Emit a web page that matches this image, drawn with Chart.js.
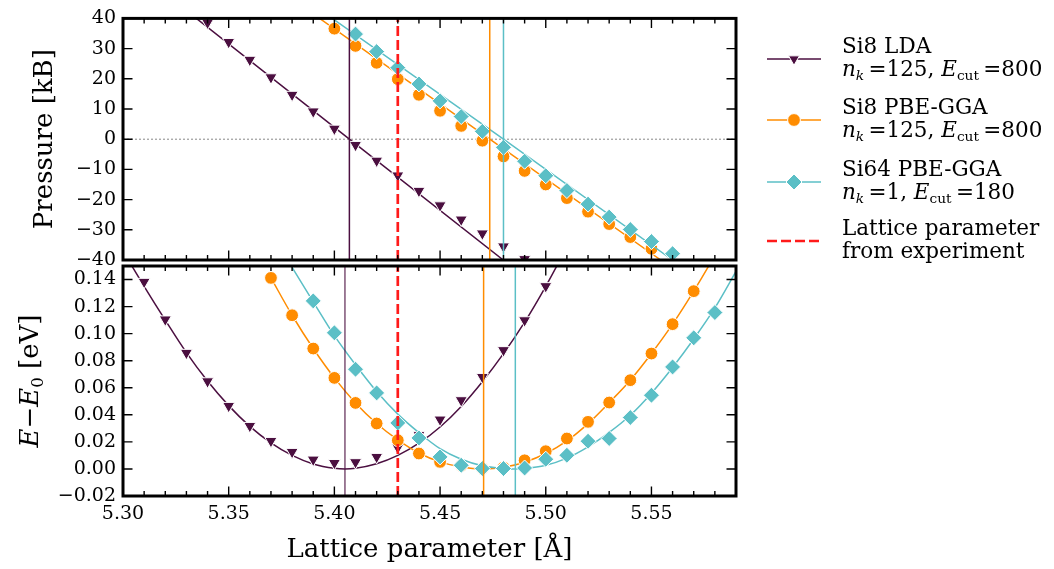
<!DOCTYPE html>
<html>
<head>
<meta charset="utf-8">
<script src="https://cdn.jsdelivr.net/npm/chart.js@4.4.1/dist/chart.umd.min.js"></script>
<style>
  html, body { margin: 0; padding: 0; background: #fff; }
  #wrap { position: relative; width: 1054px; height: 569px; background: #fff; }
  #wrap canvas { position: absolute; left: 0; top: 0; }
</style>
</head>
<body>
<div id="wrap">
  <canvas id="pressure" width="1054" height="569"></canvas>
  <canvas id="energy" width="1054" height="569"></canvas>
</div>
<script>
// ---- axes ----
const latticeMin = 5.30;
const latticeMax = 5.59;
const latticeTicks = [5.30, 5.35, 5.40, 5.45, 5.50, 5.55];
const pressureTicks = [-40, -30, -20, -10, 0, 10, 20, 30, 40];
const energyTicks = [-0.02, 0.00, 0.02, 0.04, 0.06, 0.08, 0.10, 0.12, 0.14];

// ---- legend text ----
const seriesNames = ['Si8 LDA', 'Si8 PBE-GGA', 'Si64 PBE-GGA'];
const kPoints = [125, 125, 1];
const cutoffs = [800, 800, 180];
const experimentLabel = ['Lattice parameter', 'from experiment'];

// ---- pressure [kB] vs lattice parameter ----
const latLdaP = [5.34, 5.35, 5.36, 5.37, 5.38, 5.39, 5.40, 5.41, 5.42, 5.43, 5.44, 5.45, 5.46, 5.47, 5.48, 5.49];
const pLda = [38.6, 32.2, 26.3, 20.5, 14.7, 9.2, 3.5, -1.9, -7.1, -12.0, -17.1, -21.9, -26.6, -31.2, -35.5, -39.7];
const latPbeP = [5.40, 5.41, 5.42, 5.43, 5.44, 5.45, 5.46, 5.47, 5.48, 5.49, 5.50, 5.51, 5.52, 5.53, 5.54, 5.55];
const pPbe = [36.6, 30.9, 25.3, 19.9, 14.7, 9.4, 4.4, -0.5, -5.7, -10.5, -15.0, -19.5, -24.0, -28.1, -32.4, -36.3];
const latSi64P = [5.41, 5.42, 5.43, 5.44, 5.45, 5.46, 5.47, 5.48, 5.49, 5.50, 5.51, 5.52, 5.53, 5.54, 5.55, 5.56];
const pSi64 = [34.8, 29.0, 23.7, 18.3, 12.7, 7.5, 2.6, -2.7, -7.3, -12.1, -17.0, -21.5, -25.8, -29.9, -33.9, -37.9];

// fitted P(a) curves
const latFitLdaP = [5.3347, 5.4071, 5.4799];
const pFitLda = [40, 0, -40];
const latFitPbeP = [5.3930, 5.4735, 5.5544];
const pFitPbe = [40, 0, -40];
const latFitSi64P = [5.3990, 5.4800, 5.5600];
const pFitSi64 = [40, 0, -40];

// ---- energy E - E0 [eV] vs lattice parameter ----
const latLdaE = [5.31, 5.32, 5.33, 5.34, 5.35, 5.36, 5.37, 5.38, 5.39, 5.40, 5.41, 5.42, 5.43, 5.44, 5.45, 5.46, 5.47, 5.48, 5.49, 5.50];
const eLda = [0.1383, 0.1105, 0.0858, 0.0648, 0.0466, 0.0318, 0.0207, 0.0126, 0.0069, 0.0044, 0.0050, 0.0089, 0.0158, 0.0250, 0.0365, 0.0508, 0.0680, 0.0878, 0.1099, 0.1351];
const latPbeE = [5.37, 5.38, 5.39, 5.40, 5.41, 5.42, 5.43, 5.44, 5.45, 5.46, 5.47, 5.48, 5.49, 5.50, 5.51, 5.52, 5.53, 5.54, 5.55, 5.56, 5.57];
const ePbe = [0.1412, 0.1136, 0.0890, 0.0673, 0.0488, 0.0336, 0.0212, 0.0114, 0.0052, 0.0025, 0.0003, 0.0010, 0.0064, 0.0131, 0.0225, 0.0348, 0.0491, 0.0656, 0.0853, 0.1070, 0.1314];
const latSi64E = [5.39, 5.40, 5.41, 5.42, 5.43, 5.44, 5.45, 5.46, 5.47, 5.48, 5.49, 5.50, 5.51, 5.52, 5.53, 5.54, 5.55, 5.56, 5.57, 5.58];
const eSi64 = [0.1242, 0.1006, 0.0737, 0.0562, 0.0340, 0.0229, 0.0089, 0.0027, 0.0003, 0.0003, 0.0007, 0.0072, 0.0101, 0.0205, 0.0225, 0.0380, 0.0545, 0.0754, 0.0969, 0.1156];

// fitted E(a) curves
const latFitLdaE = [5.30, 5.31, 5.32, 5.33, 5.34, 5.35, 5.36, 5.37, 5.38, 5.39, 5.40, 5.405, 5.41, 5.42, 5.43, 5.44, 5.45, 5.46, 5.47, 5.48, 5.49, 5.50, 5.51];
const eFitLda = [0.161, 0.135, 0.110, 0.0860, 0.0650, 0.0468, 0.0315, 0.0193, 0.0100, 0.0037, 0.0005, 0.0, 0.0005, 0.0038, 0.0100, 0.0190, 0.0310, 0.0462, 0.0645, 0.0852, 0.1085, 0.1350, 0.164];
const latFitPbeE = [5.37, 5.38, 5.39, 5.40, 5.41, 5.42, 5.43, 5.44, 5.45, 5.46, 5.4706, 5.48, 5.49, 5.50, 5.51, 5.52, 5.53, 5.54, 5.55, 5.56, 5.57, 5.58, 5.59];
const eFitPbe = [0.1412, 0.1136, 0.0890, 0.0673, 0.0488, 0.0336, 0.0215, 0.0118, 0.0052, 0.0014, 0.0, 0.0012, 0.0050, 0.0114, 0.0207, 0.0335, 0.0490, 0.0656, 0.0853, 0.1070, 0.1314, 0.1580, 0.1870];
const latFitSi64E = [5.38, 5.39, 5.40, 5.41, 5.42, 5.43, 5.44, 5.45, 5.46, 5.47, 5.48, 5.4856, 5.49, 5.50, 5.51, 5.52, 5.53, 5.54, 5.55, 5.56, 5.57, 5.58, 5.59];
const eFitSi64 = [0.1490, 0.1235, 0.0985, 0.0770, 0.0572, 0.0405, 0.0268, 0.0150, 0.0072, 0.0024, 0.0004, 0.0, 0.0003, 0.0027, 0.0080, 0.0163, 0.0270, 0.0397, 0.0560, 0.0750, 0.0960, 0.1190, 0.1460];

// equilibrium lattice parameters: P = 0 and E minimum, plus experiment
const aZeroPressure = [5.4071, 5.4735, 5.4800];
const aMinEnergy = [5.4050, 5.4706, 5.4856];
const aExperiment = 5.430;

// ---- styling ----
const FONT = '"DejaVu Serif", serif';
const colors = ['#4b0f40', '#ff8c00', '#5bbfc6'];
const energyLineColors = ['rgba(75,15,64,0.72)', '#ff8c00', '#5bbfc6'];
const markerStyles = [
  { pointStyle: 'triangle', rotation: 180, radius: 7 },
  { pointStyle: 'circle', rotation: 0, radius: 6.4 },
  { pointStyle: 'rectRot', rotation: 0, radius: 8 }
];
const legendRadius = [6.3, 6.4, 8];
const RED = '#ff1a1a';
const DASH = [10, 4];

Chart.defaults.font.family = FONT;
Chart.defaults.color = '#000';
Chart.defaults.animation = false;

const latticeMinorTicks = [];
for (let i = 0; Math.round((latticeMin + i * 0.01) * 100) <= Math.round(latticeMax * 100); i++) {
  latticeMinorTicks.push(Math.round((latticeMin + i * 0.01) * 100) / 100);
}
const isMajor = v => latticeTicks.some(t => Math.abs(t - v) < 1e-6);
const minus = s => s.replace('-', '\u2212');

function pts(xs, ys) { return xs.map((x, i) => ({ x, y: ys[i] })); }

function fitSet(xs, ys, color, order, smooth) {
  return {
    data: pts(xs, ys), showLine: true, borderColor: color, borderWidth: 1.5,
    pointRadius: 0, pointHoverRadius: 0, order,
    tension: 0, cubicInterpolationMode: smooth ? 'monotone' : 'default'
  };
}
function markerSet(xs, ys, i, order) {
  const m = markerStyles[i];
  return {
    data: pts(xs, ys), showLine: false, order,
    pointStyle: m.pointStyle, pointRotation: m.rotation, pointRadius: m.radius,
    pointBackgroundColor: colors[i], pointBorderColor: '#ffffff', pointBorderWidth: 1,
    pointHoverRadius: m.radius
  };
}
function vlineSet(x, yMin, yMax, color, order, width, dash) {
  return {
    data: [{ x, y: yMin }, { x, y: yMax }], showLine: true, borderColor: color,
    borderWidth: width, borderDash: dash || [], pointRadius: 0, order
  };
}
function hlineSet(y, color, order, width, dash) {
  return {
    data: [{ x: latticeMin, y }, { x: latticeMax, y }], showLine: true, borderColor: color,
    borderWidth: width, borderDash: dash || [], pointRadius: 0, order
  };
}

// frame with inward ticks on all four sides
const frameTicks = {
  id: 'frameTicks',
  afterDatasetsDraw(chart, args, opts) {
    const { ctx, chartArea: a, scales } = chart;
    ctx.save();
    ctx.strokeStyle = '#000';
    ctx.lineWidth = 1.4;
    ctx.beginPath();
    for (const v of latticeMinorTicks) {
      const px = scales.x.getPixelForValue(v);
      const len = isMajor(v) ? 9.5 : 5;
      ctx.moveTo(px, a.top); ctx.lineTo(px, a.top + len);
      ctx.moveTo(px, a.bottom); ctx.lineTo(px, a.bottom - len);
    }
    for (const v of opts.yTicks) {
      const py = scales.y.getPixelForValue(v);
      ctx.moveTo(a.left, py); ctx.lineTo(a.left + 9.5, py);
      ctx.moveTo(a.right, py); ctx.lineTo(a.right - 9.5, py);
    }
    ctx.stroke();
    ctx.lineWidth = 3;
    ctx.strokeRect(a.left, a.top, a.right - a.left, a.bottom - a.top);
    ctx.restore();
  }
};

// text with italic / subscript runs
const SUB = 0.64;
function setRunFont(ctx, s, size) {
  const fs = s.sub ? size * SUB : size;
  ctx.font = (s.it ? 'italic ' : '') + fs + 'px ' + FONT;
}
function drawRich(ctx, segs, x, y, size) {
  let cx = x;
  for (const s of segs) {
    setRunFont(ctx, s, size);
    ctx.fillText(s.t, cx, y + (s.sub ? size * 0.22 : 0));
    cx += ctx.measureText(s.t).width;
  }
  return cx - x;
}
function richWidth(ctx, segs, size) {
  let w = 0;
  for (const s of segs) {
    setRunFont(ctx, s, size);
    w += ctx.measureText(s.t).width;
  }
  return w;
}

const legendPlugin = {
  id: 'sideLegend',
  afterDraw(chart) {
    const ctx = chart.ctx;
    const size = 21.5;
    const lineYs = [59, 120, 182, 241];
    const x0 = 767, x1 = 821, tx = 842;
    const thin = '\u2009';
    ctx.save();
    ctx.textBaseline = 'alphabetic';
    ctx.textAlign = 'left';
    ctx.fillStyle = '#000';
    for (let i = 0; i < 4; i++) {
      const y = lineYs[i];
      ctx.save();
      ctx.beginPath();
      ctx.strokeStyle = i < 3 ? colors[i] : RED;
      ctx.lineWidth = i < 3 ? 1.5 : 2.7;
      ctx.setLineDash(i < 3 ? [] : DASH);
      ctx.moveTo(x0, y); ctx.lineTo(x1, y);
      ctx.stroke();
      ctx.restore();
      if (i < 3) {
        const m = markerStyles[i];
        ctx.save();
        ctx.fillStyle = colors[i];
        ctx.strokeStyle = '#ffffff';
        ctx.lineWidth = 1;
        Chart.helpers.drawPoint(ctx, { pointStyle: m.pointStyle, radius: legendRadius[i], rotation: m.rotation, borderWidth: 1 }, (x0 + x1) / 2, y);
        ctx.restore();
        ctx.fillStyle = '#000';
        drawRich(ctx, [{ t: seriesNames[i] }], tx, y - 6.3, size);
        drawRich(ctx, [
          { t: 'n', it: true }, { t: 'k', it: true, sub: true }, { t: thin + '=' + kPoints[i] + ', ' },
          { t: 'E', it: true }, { t: 'cut', sub: true }, { t: thin + '=' + cutoffs[i] }
        ], tx, y + 16.6, size);
      } else {
        drawRich(ctx, [{ t: experimentLabel[0] }], tx, y - 5.8, size);
        drawRich(ctx, [{ t: experimentLabel[1] }], tx, y + 17.2, size);
      }
    }
    ctx.restore();
  }
};

const energyTitle = {
  id: 'energyTitle',
  afterDraw(chart) {
    const { ctx, chartArea: a } = chart;
    const size = 26;
    const segs = [{ t: 'E', it: true }, { t: '\u2212' }, { t: 'E', it: true }, { t: '0', sub: true }, { t: ' [eV]' }];
    ctx.save();
    ctx.fillStyle = '#000';
    ctx.textBaseline = 'alphabetic';
    ctx.textAlign = 'left';
    const w = richWidth(ctx, segs, size);
    ctx.translate(28, (a.top + a.bottom) / 2);
    ctx.rotate(-Math.PI / 2);
    drawRich(ctx, segs, -w / 2, 9.5, size);
    ctx.restore();
  }
};

const tickFont = { family: FONT, size: 19 };
const titleFont = { family: FONT, size: 26 };

// ---- pressure panel ----
new Chart(document.getElementById('pressure'), {
  type: 'scatter',
  data: {
    datasets: [
      hlineSet(0, '#888', 100, 1, [2, 2]),
      fitSet(latFitLdaP, pFitLda, colors[0], 90, false),
      markerSet(latLdaP, pLda, 0, 85),
      fitSet(latFitPbeP, pFitPbe, colors[1], 80, false),
      markerSet(latPbeP, pPbe, 1, 75),
      fitSet(latFitSi64P, pFitSi64, colors[2], 70, false),
      markerSet(latSi64P, pSi64, 2, 65),
      vlineSet(aZeroPressure[0], -40, 40, colors[0], 50, 1.5),
      vlineSet(aZeroPressure[1], -40, 40, colors[1], 50, 1.5),
      vlineSet(aZeroPressure[2], -40, 40, colors[2], 50, 1.5),
      vlineSet(aExperiment, -40, 40, RED, 40, 2.7, DASH)
    ]
  },
  options: {
    responsive: false,
    devicePixelRatio: 1,
    layout: { padding: { left: 0, top: 12, right: 318, bottom: 309 } },
    plugins: { legend: { display: false }, tooltip: { enabled: false }, frameTicks: { yTicks: pressureTicks } },
    events: [],
    scales: {
      x: { type: 'linear', min: latticeMin, max: latticeMax, display: false },
      y: {
        type: 'linear', min: -40, max: 40,
        grid: { display: false, drawTicks: false }, border: { display: false },
        afterFit(s) { s.width = 123; },
        afterBuildTicks(s) { s.ticks = pressureTicks.map(v => ({ value: v })); },
        ticks: { font: tickFont, padding: 7, autoSkip: false, callback: v => minus(String(v)) },
        title: { display: true, text: 'Pressure [kB]', font: titleFont, padding: { top: 30 } }
      }
    }
  },
  plugins: [frameTicks, legendPlugin]
});

// ---- energy panel ----
new Chart(document.getElementById('energy'), {
  type: 'scatter',
  data: {
    datasets: [
      fitSet(latFitLdaE, eFitLda, colors[0], 90, true),
      markerSet(latLdaE, eLda, 0, 85),
      fitSet(latFitPbeE, eFitPbe, colors[1], 80, true),
      markerSet(latPbeE, ePbe, 1, 75),
      fitSet(latFitSi64E, eFitSi64, colors[2], 70, true),
      markerSet(latSi64E, eSi64, 2, 65),
      vlineSet(aMinEnergy[0], -0.02, 0.15, energyLineColors[0], 50, 1.5),
      vlineSet(aMinEnergy[1], -0.02, 0.15, energyLineColors[1], 50, 1.5),
      vlineSet(aMinEnergy[2], -0.02, 0.15, energyLineColors[2], 50, 1.5),
      vlineSet(aExperiment, -0.02, 0.15, RED, 40, 2.7, DASH)
    ]
  },
  options: {
    responsive: false,
    devicePixelRatio: 1,
    layout: { padding: { left: 0, top: 266, right: 318, bottom: 0 } },
    plugins: { legend: { display: false }, tooltip: { enabled: false }, frameTicks: { yTicks: energyTicks } },
    events: [],
    scales: {
      x: {
        type: 'linear', min: latticeMin, max: latticeMax,
        grid: { display: false, drawTicks: false }, border: { display: false },
        afterFit(s) { s.height = 73; },
        afterBuildTicks(s) { s.ticks = latticeMinorTicks.map(v => ({ value: v })); },
        ticks: {
          font: tickFont, padding: 7, autoSkip: false, maxRotation: 0, minRotation: 0,
          callback: v => (isMajor(v) ? v.toFixed(2) : '')
        },
        title: { display: true, text: 'Lattice parameter [\u00c5]', font: titleFont, padding: { top: 0, bottom: 3 } }
      },
      y: {
        type: 'linear', min: -0.02, max: 0.15,
        grid: { display: false, drawTicks: false }, border: { display: false },
        afterFit(s) { s.width = 123; },
        afterBuildTicks(s) { s.ticks = energyTicks.map(v => ({ value: v })); },
        ticks: { font: tickFont, padding: 7, autoSkip: false, callback: v => minus(v.toFixed(2)) }
      }
    }
  },
  plugins: [frameTicks, energyTitle]
});
</script>
</body>
</html>
